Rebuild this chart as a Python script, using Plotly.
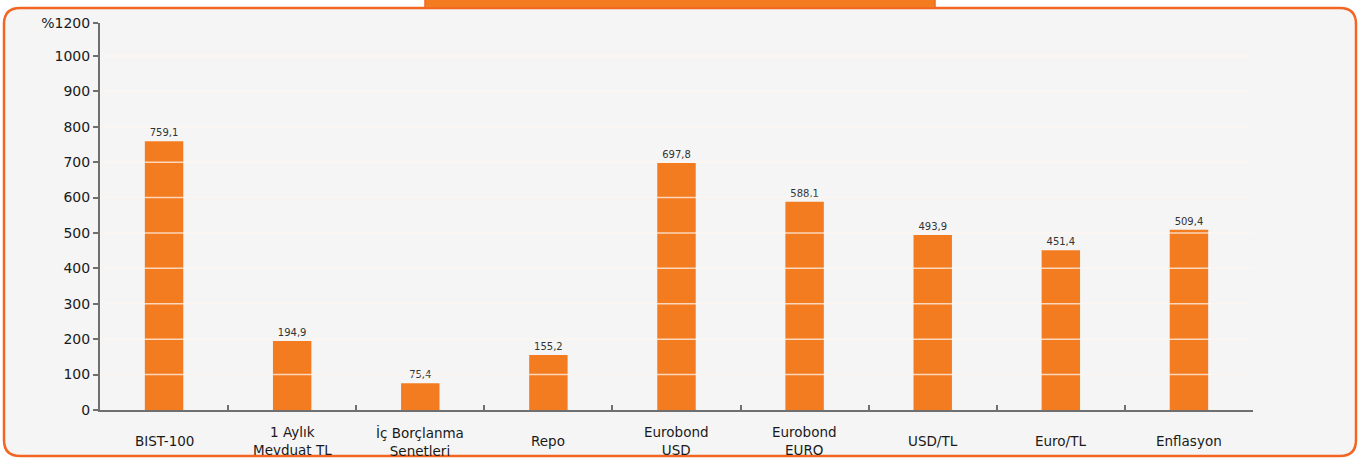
import plotly.graph_objects as go

categories = ["BIST-100", "1 Aylık<br>Mevduat TL", "İç Borçlanma<br>Senetleri", "Repo",
              "Eurobond<br>USD", "Eurobond<br>EURO", "USD/TL", "Euro/TL", "Enflasyon"]
values = [759.1, 194.9, 75.4, 155.2, 697.8, 588.1, 493.9, 451.4, 509.4]
value_labels = ["759,1", "194,9", "75,4", "155,2", "697,8", "588,1", "493,9", "451,4", "509,4"]
y_tick_vals = [0, 100, 200, 300, 400, 500, 600, 700, 800, 900, 1000, 1093]
y_tick_text = ["0", "100", "200", "300", "400", "500", "600", "700", "800", "900", "1000", "%1200"]

W, H = 1367, 459
L, R, T, B = 100, 114, 23, 49
PW, PH = W - L - R, H - T - B
ORANGE = "#F47C20"
BORDER = "#F26522"


def px(x):
    return (x - L) / PW


def py(y):
    return (H - B - y) / PH


def rounded_rect(x0, y0, x1, y1, r):
    rx, ry = r / PW, r / PH
    X0, X1 = px(x0), px(x1)
    Y0, Y1 = py(y0), py(y1)  # Y0 top (larger), Y1 bottom
    return (f"M {X0 + rx},{Y0} L {X1 - rx},{Y0} Q {X1},{Y0} {X1},{Y0 - ry} "
            f"L {X1},{Y1 + ry} Q {X1},{Y1} {X1 - rx},{Y1} "
            f"L {X0 + rx},{Y1} Q {X0},{Y1} {X0},{Y1 + ry} "
            f"L {X0},{Y0 - ry} Q {X0},{Y0} {X0 + rx},{Y0} Z")


fig = go.Figure()
fig.add_trace(go.Bar(
    x=categories, y=values, width=0.3,
    marker=dict(color=ORANGE, line=dict(width=0)),
    text=value_labels, textposition="outside", cliponaxis=False,
    textfont=dict(family="DejaVu Sans", size=10, color="#333333"),
    hoverinfo="skip",
))

shapes = [
    dict(type="path", xref="paper", yref="paper", path=rounded_rect(4, 8, 1356, 456, 16),
         fillcolor="#F5F5F5", line=dict(color=BORDER, width=2.5), layer="below"),
    dict(type="rect", xref="paper", yref="paper", x0=px(425), x1=px(935), y0=py(8), y1=py(-2),
         fillcolor=ORANGE, line=dict(color=BORDER, width=1.5), layer="below"),
]
for v in y_tick_vals[1:-1]:
    shapes.append(dict(type="line", xref="paper", yref="y", x0=px(104), x1=1, y0=v, y1=v,
                       line=dict(color="rgba(255,245,238,0.75)", width=1.5), layer="above"))

annotations = []
for c in categories:
    annotations.append(dict(x=c, y=py(441), xref="x", yref="paper", text=c, showarrow=False,
                            xanchor="center", yanchor="middle",
                            font=dict(family="DejaVu Sans", size=13.5, color="#1a1a1a")))

fig.update_layout(
    width=W, height=H,
    margin=dict(l=L, r=R, t=T, b=B),
    paper_bgcolor="white", plot_bgcolor="rgba(0,0,0,0)",
    showlegend=False,
    shapes=shapes, annotations=annotations,
    xaxis=dict(showticklabels=False, showgrid=False, zeroline=False,
               showline=True, linecolor="#6f6f6f", linewidth=2,
               ticks="inside", tickson="boundaries", ticklen=5, tickwidth=2, tickcolor="#6f6f6f"),
    yaxis=dict(range=[0, 1093], tickvals=y_tick_vals, ticktext=y_tick_text,
               showgrid=False, zeroline=False, showline=True, linecolor="#6f6f6f", linewidth=2,
               ticks="outside", ticklen=5, tickwidth=2, tickcolor="#6f6f6f",
               tickfont=dict(family="DejaVu Sans", size=14, color="#1a1a1a")),
)

fig.write_html("out.html", config={"displayModeBar": False},
               post_script="document.body.style.margin='0';document.body.style.overflow='hidden';")
